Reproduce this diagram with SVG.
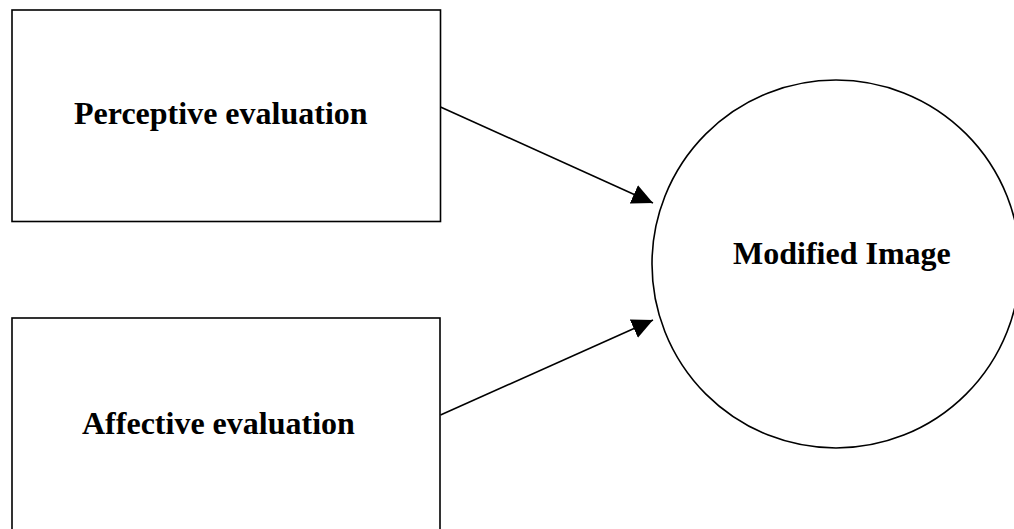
<svg xmlns="http://www.w3.org/2000/svg" width="1014" height="529" viewBox="0 0 1014 529">
<style>
.shape{fill:#fff;stroke:#000;stroke-width:1.6}
.lbl{font-family:"Liberation Serif","Times New Roman",serif;font-weight:bold;font-size:32px;fill:#000}
.conn{stroke:#000;stroke-width:1.6;fill:none}
</style>
<defs>
<marker id="ah" markerUnits="userSpaceOnUse" markerWidth="22" markerHeight="21" refX="21" refY="10" orient="auto" viewBox="0 0 22 21">
<path d="M0,0 L21,10 L0,20 Z" fill="#000"/>
</marker>
</defs>
<rect width="1014" height="529" fill="#fff"/>
<g id="perceptive">
<rect class="shape" x="12" y="10" width="428.5" height="211.5"/>
<text class="lbl" x="74" y="124">Perceptive evaluation</text>
</g>
<g id="affective">
<rect class="shape" x="12" y="318" width="428" height="230"/>
<text class="lbl" x="82" y="434">Affective evaluation</text>
</g>
<g id="modified">
<circle class="shape" cx="836" cy="264" r="184"/>
<text class="lbl" x="733" y="264">Modified Image</text>
</g>
<g id="connectors">
<line class="conn" x1="440.5" y1="107" x2="653" y2="203" marker-end="url(#ah)"/>
<line class="conn" x1="440.5" y1="415" x2="653" y2="320" marker-end="url(#ah)"/>
</g>
</svg>
